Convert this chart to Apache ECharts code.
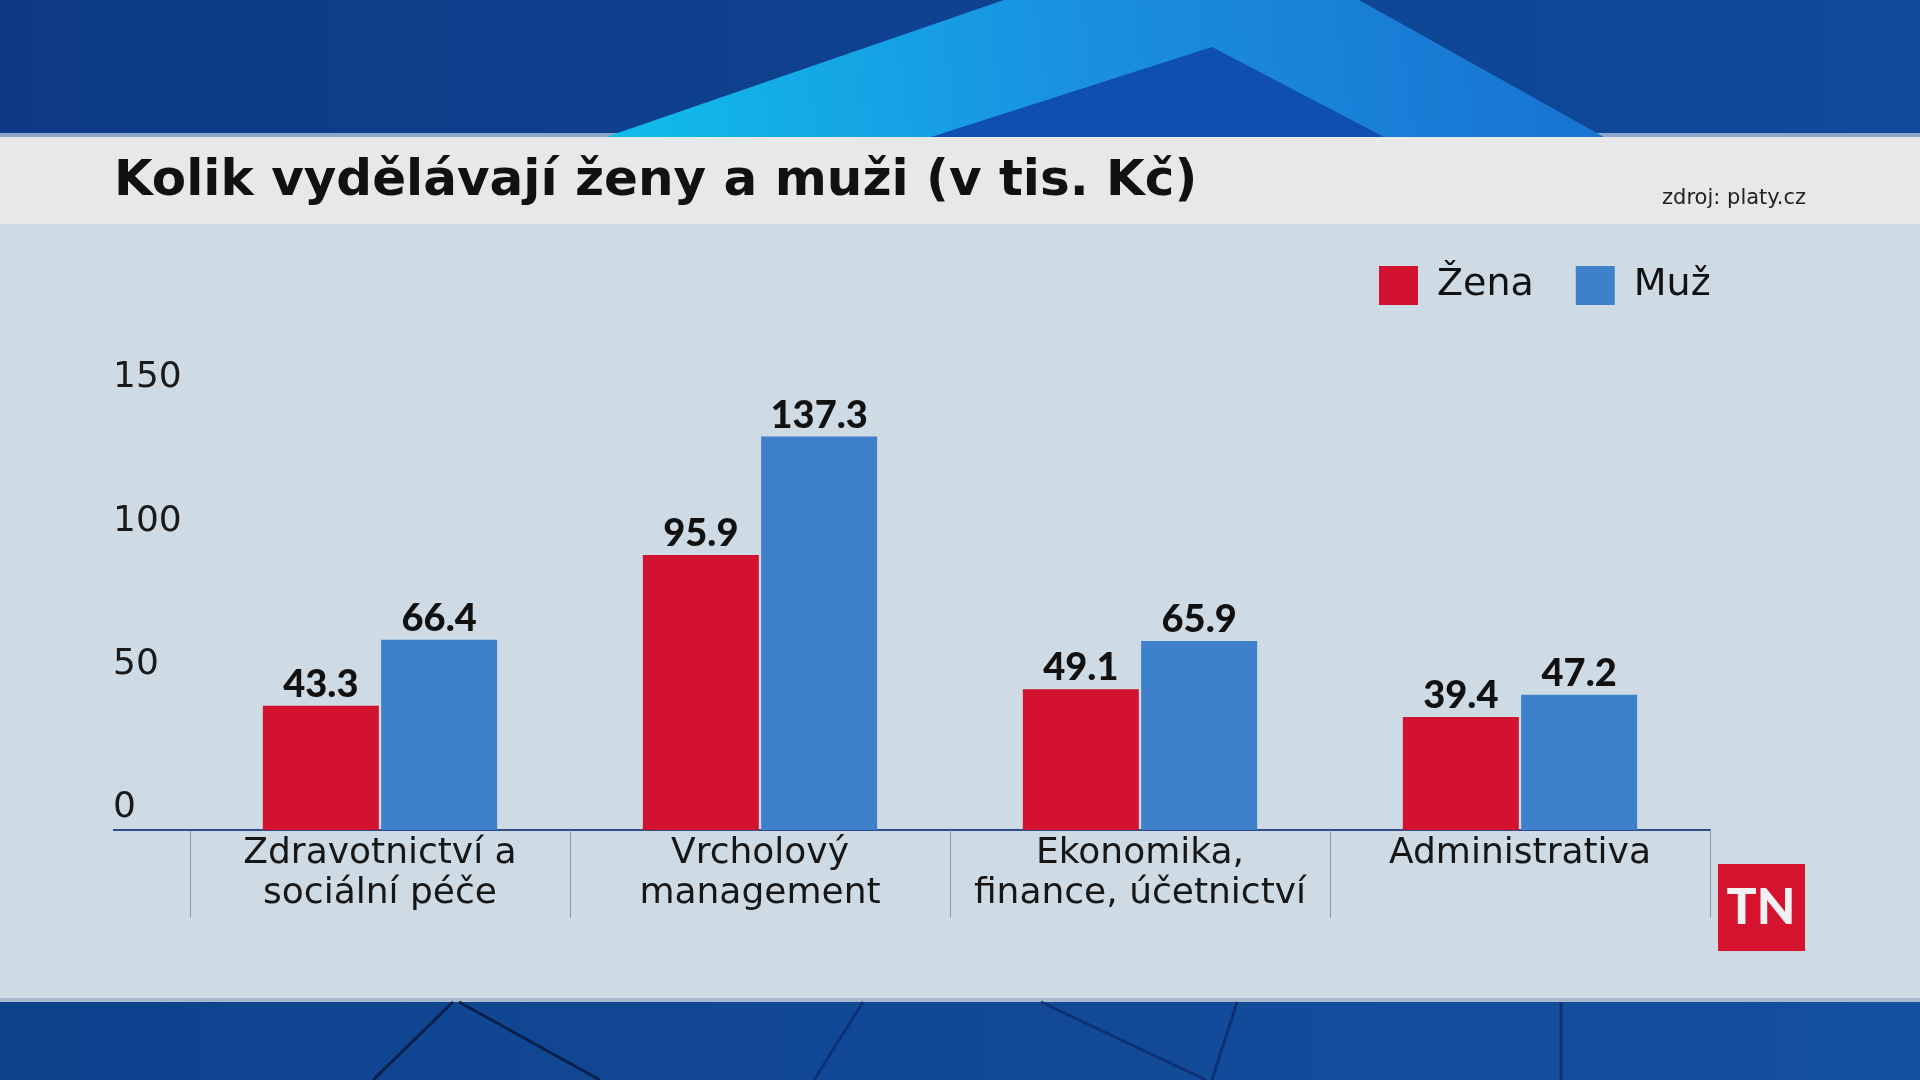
<!DOCTYPE html>
<html>
<head>
<meta charset="utf-8">
<script src="https://cdn.jsdelivr.net/npm/echarts@6/dist/echarts.min.js"></script>
<style>
html, body { margin: 0; padding: 0; background: #cfdbe4; }
#chart { width: 1920px; height: 1080px; }
</style>
</head>
<body>
<div id="chart"></div>
<script>
var categories = ['Zdravotnictví a\nsociální péče', 'Vrcholový\nmanagement', 'Ekonomika,\nfinance, účetnictví', 'Administrativa'];
var zenaValues = [43.3, 95.9, 49.1, 39.4];
var muzValues = [66.4, 137.3, 65.9, 47.2];
var seriesNames = ['Žena', 'Muž'];
var yTicks = [0, 50, 100, 150];

var FONT = '"DejaVu Sans", Lato, sans-serif';
var NUMFONT = 'Lato, "Noto Sans", sans-serif';
var RED = '#d3122f';
var BLUE = '#3f80cb';

var chart = echarts.init(document.getElementById('chart'));

//背景装饰
var bgGraphics = [
    { type: 'rect', z: -10, shape: { x: 0, y: 0, width: 1920, height: 137 },
      style: { fill: new echarts.graphic.LinearGradient(0, 0, 1, 0, [
          { offset: 0, color: '#0e3a85' }, { offset: 1, color: '#0f4a9c' }]) } },
    { type: 'polygon', z: -9, shape: { points: [[606, 137], [1004, 0], [1359, 0], [1604, 137]] },
      style: { fill: new echarts.graphic.LinearGradient(0, 1, 1, 0, [
          { offset: 0, color: '#10bdea' }, { offset: 0.5, color: '#1a8ee0' }, { offset: 1, color: '#1772cf' }]) } },
    { type: 'polygon', z: -8, shape: { points: [[931, 137], [1212, 47], [1384, 137]] },
      style: { fill: '#0f4fb3' } },
    { type: 'rect', z: -10, shape: { x: 0, y: 133, width: 1920, height: 4 }, style: { fill: '#8ea6c9' } },
    { type: 'rect', z: -10, shape: { x: 0, y: 137, width: 1920, height: 87 }, style: { fill: '#e6e8ea' } },
    { type: 'rect', z: -10, shape: { x: 0, y: 224, width: 1920, height: 776 }, style: { fill: '#cfdbe4' } },
    { type: 'rect', z: -10, shape: { x: 0, y: 1000, width: 1920, height: 80 },
      style: { fill: new echarts.graphic.LinearGradient(0, 0, 1, 0, [
          { offset: 0, color: '#0f428d' }, { offset: 1, color: '#1450a0' }]) } },
    { type: 'rect', z: -9, shape: { x: 0, y: 998, width: 1920, height: 4 }, style: { fill: '#a9bacd' } }
];
var bottomLines = [[453, 1002, 373, 1080], [459, 1002, 600, 1080], [863, 1002, 814, 1080],
                   [1041, 1002, 1206, 1080], [1237, 1002, 1212, 1080], [1561, 1002, 1561, 1080]];
bottomLines.forEach(function (l, i) {
    bgGraphics.push({ type: 'line', z: -8, shape: { x1: l[0], y1: l[1], x2: l[2], y2: l[3] },
        style: { stroke: i === 0 || i === 1 ? '#0a1f4a' : '#0c3275', lineWidth: 3 } });
});

//TN logo + 左侧延伸的轴线
var extraGraphics = [
    { type: 'line', z: 5, shape: { x1: 113, y1: 830, x2: 192, y2: 830 },
      style: { stroke: '#2f4e8c', lineWidth: 2 } },
    { type: 'rect', z: 5, shape: { x: 1718, y: 864, width: 87, height: 87 }, style: { fill: '#d6132f' } },
    { type: 'text', z: 6, x: 1761, y: 908,
      style: { text: 'TN', fill: '#f2f2f2', font: '900 50px ' + NUMFONT, align: 'center', verticalAlign: 'middle' } }
];

var option = {
    backgroundColor: '#cfdbe4',
    animation: false,
    graphic: bgGraphics.concat(extraGraphics),
    title: [{
        text: 'Kolik vydělávají ženy a muži (v tis. Kč)',
        left: 114, top: 157, padding: 0,
        textStyle: { fontFamily: FONT, fontSize: 50, fontWeight: 'bold', color: '#111111' }
    }, {
        text: 'zdroj: platy.cz',
        right: 114, top: 188, padding: 0,
        textStyle: { fontFamily: FONT, fontSize: 21, fontWeight: 'normal', color: '#222222' }
    }],
    legend: {
        data: seriesNames,
        left: 1374, top: 261,
        icon: 'rect',
        itemWidth: 39, itemHeight: 39,
        itemGap: 42,
        textStyle: { fontFamily: FONT, fontSize: 38, color: '#111111', padding: [0, 0, 0, 14] }
    },
    grid: { left: 190, right: 210, top: 400, bottom: 250 },
    xAxis: {
        type: 'category',
        data: categories,
        axisLine: { show: true, lineStyle: { color: '#2f4e8c', width: 2 } },
        axisTick: { show: true, length: 88, lineStyle: { color: '#8d98a4', width: 1 } },
        axisLabel: {
            fontFamily: FONT, fontSize: 36, color: '#161616',
            lineHeight: 40, margin: 4, interval: 0
        }
    },
    yAxis: {
        type: 'value',
        min: yTicks[0], max: yTicks[yTicks.length - 1], interval: 50,
        axisLine: { show: false },
        axisTick: { show: false },
        splitLine: { show: false },
        axisLabel: {
            fontFamily: FONT, fontSize: 36, color: '#1a1a1a',
            align: 'left', verticalAlign: 'bottom', margin: 77,
            padding: [0, 0, 4, 0]
        }
    },
    series: [{
        name: seriesNames[0],
        type: 'bar',
        data: zenaValues,
        barWidth: 116,
        barGap: '2%',
        itemStyle: { color: RED },
        label: { show: true, position: 'top', distance: 2, fontFamily: NUMFONT, fontSize: 38, fontWeight: 900, color: '#111111' }
    }, {
        name: seriesNames[1],
        type: 'bar',
        data: muzValues,
        barWidth: 116,
        barGap: '2%',
        itemStyle: { color: BLUE },
        label: { show: true, position: 'top', distance: 2, fontFamily: NUMFONT, fontSize: 38, fontWeight: 900, color: '#111111' }
    }]
};
chart.setOption(option);
</script>
</body>
</html>
